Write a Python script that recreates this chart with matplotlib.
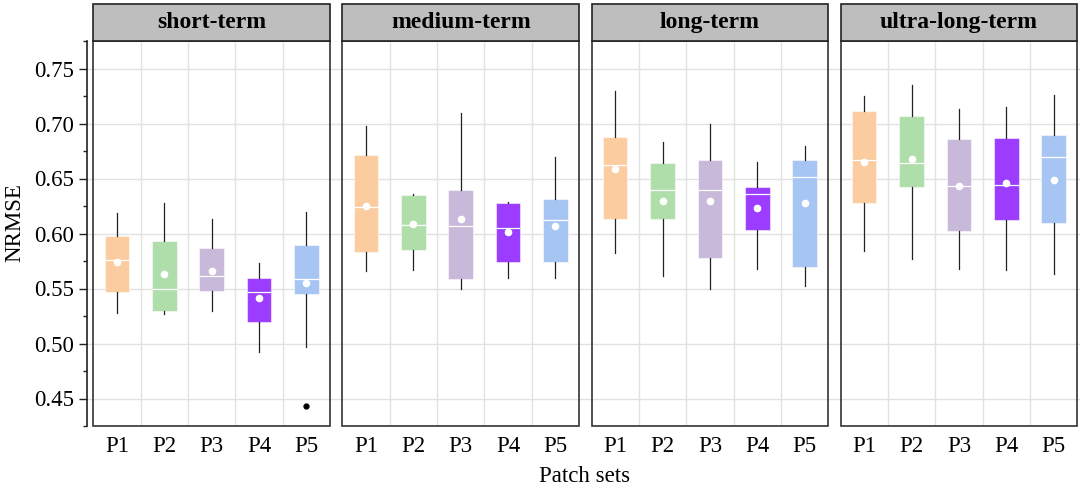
import matplotlib
matplotlib.use("Agg")
import matplotlib.pyplot as plt
from matplotlib.patches import Rectangle
from matplotlib.ticker import MultipleLocator

horizons = ["short-term", "medium-term", "long-term", "ultra-long-term"]
patch_sets = ["P1", "P2", "P3", "P4", "P5"]
colors = ["#FBCC9F", "#B0DEAB", "#C8B9DA", "#9B3CFF", "#A7C5F2"]

whisker_low = [
    [0.528, 0.527, 0.530, 0.492, 0.497],
    [0.566, 0.567, 0.550, 0.560, 0.560],
    [0.582, 0.561, 0.550, 0.568, 0.552],
    [0.584, 0.577, 0.568, 0.567, 0.563],
]
q1 = [
    [0.547, 0.530, 0.548, 0.520, 0.545],
    [0.583, 0.585, 0.559, 0.574, 0.574],
    [0.613, 0.613, 0.578, 0.603, 0.570],
    [0.628, 0.642, 0.602, 0.612, 0.610],
]
median = [
    [0.576, 0.550, 0.561, 0.547, 0.559],
    [0.624, 0.608, 0.607, 0.605, 0.612],
    [0.662, 0.640, 0.640, 0.636, 0.651],
    [0.667, 0.664, 0.643, 0.644, 0.670],
]
q3 = [
    [0.598, 0.593, 0.587, 0.560, 0.590],
    [0.671, 0.635, 0.640, 0.628, 0.631],
    [0.688, 0.664, 0.667, 0.642, 0.667],
    [0.711, 0.707, 0.686, 0.687, 0.690],
]
whisker_high = [
    [0.619, 0.628, 0.613, 0.573, 0.620],
    [0.698, 0.636, 0.710, 0.629, 0.670],
    [0.730, 0.683, 0.700, 0.665, 0.680],
    [0.725, 0.735, 0.713, 0.715, 0.726],
]
means = [
    [0.574, 0.563, 0.566, 0.541, 0.555],
    [0.625, 0.609, 0.613, 0.601, 0.607],
    [0.659, 0.630, 0.630, 0.623, 0.628],
    [0.665, 0.668, 0.643, 0.646, 0.649],
]
outliers = [
    [[], [], [], [], [0.443]],
    [[], [], [], [], []],
    [[], [], [], [], []],
    [[], [], [], [], []],
]
y_ticks = [0.45, 0.50, 0.55, 0.60, 0.65, 0.70, 0.75]
y_limits = (0.425, 0.775)

SERIF = ["Liberation Serif", "DejaVu Serif"]
plt.rcParams["font.family"] = SERIF

W, H = 1080, 488
fig = plt.figure(figsize=(W / 100, H / 100), dpi=100)

panel_left_px = [93.3, 342.3, 591.5, 840.5]
panel_w_px = 236.8
top_px, bottom_px = 41, 426
strip_px = 37
ax_bottom = (H - bottom_px) / H
ax_height = (bottom_px - top_px) / H

# background horizontal grid spanning the whole panel row
bg = fig.add_axes([87 / W, ax_bottom, (W - 87) / W, ax_height], zorder=0)
bg.set_ylim(*y_limits)
bg.axis("off")
for t in y_ticks:
    bg.axhline(t, color="#E2E2E2", lw=1.0, zorder=0)

grid_col = "#E2E2E2"
for i, name in enumerate(horizons):
    ax = fig.add_axes([panel_left_px[i] / W, ax_bottom, panel_w_px / W, ax_height], zorder=2)
    ax.set_facecolor("none")
    ax.set_xlim(0.5, 5.5)
    ax.set_ylim(*y_limits)
    for xv in [1.5, 2.5, 3.5, 4.5]:
        ax.axvline(xv, color=grid_col, lw=1.0, zorder=0)

    stats = []
    for j in range(5):
        stats.append(dict(
            med=median[i][j], q1=q1[i][j], q3=q3[i][j],
            whislo=whisker_low[i][j], whishi=whisker_high[i][j],
            mean=means[i][j], fliers=outliers[i][j],
        ))
    bp = ax.bxp(
        stats, positions=range(1, 6), widths=0.52, patch_artist=True,
        showmeans=True, showcaps=False, showfliers=True,
        boxprops=dict(edgecolor=(1, 1, 1, 0.5), linewidth=0.8),
        medianprops=dict(color="white", linewidth=0.9),
        whiskerprops=dict(color="#222222", linewidth=0.9),
        meanprops=dict(marker="o", markerfacecolor="white", markeredgecolor="white",
                       markersize=4.5),
        flierprops=dict(marker="o", markerfacecolor="black", markeredgecolor="black",
                        markersize=3.5),
        zorder=3,
    )
    for patch, c in zip(bp["boxes"], colors):
        patch.set_facecolor(c)

    for s in ax.spines.values():
        s.set_visible(False)
    ax.add_patch(Rectangle((0, 0), 1, 1, transform=ax.transAxes, fill=False,
                           edgecolor="#333333", lw=1.2, clip_on=False, zorder=5))
    sh = strip_px / (bottom_px - top_px)
    ax.add_patch(Rectangle((0, 1), 1, sh, transform=ax.transAxes, facecolor="#BEBEBE",
                           edgecolor="#222222", lw=1.2, clip_on=False, zorder=5))
    ax.text(0.5, 1 + sh / 2, name, transform=ax.transAxes, ha="center", va="center",
            fontsize=17, fontweight="bold", family=SERIF, zorder=6)

    ax.set_xticks(range(1, 6))
    ax.set_xticklabels(patch_sets)
    ax.tick_params(axis="x", length=0, pad=7.5, labelsize=16.5)

    if i == 0:
        ax.spines["left"].set_visible(True)
        ax.spines["left"].set_position(("outward", 4.5))
        ax.spines["left"].set_color("#222222")
        ax.spines["left"].set_linewidth(1.2)
        ax.set_yticks(y_ticks)
        ax.set_yticklabels([f"{t:.2f}" for t in y_ticks])
        ax.yaxis.set_minor_locator(MultipleLocator(0.025))
        ax.tick_params(axis="y", which="major", length=5.5, width=1.0, pad=4,
                       labelsize=16.5, color="#222222")
        ax.tick_params(axis="y", which="minor", length=3, width=1.0, color="#222222")
    else:
        ax.set_yticks([])

fig.text(585 / W, 11 / H, "Patch sets", ha="center", va="center", fontsize=16.5)
fig.text(15 / W, (H - 223) / H, "NRMSE", ha="center", va="center", rotation=90, fontsize=16.5)

fig.savefig("out.png", dpi=100)
